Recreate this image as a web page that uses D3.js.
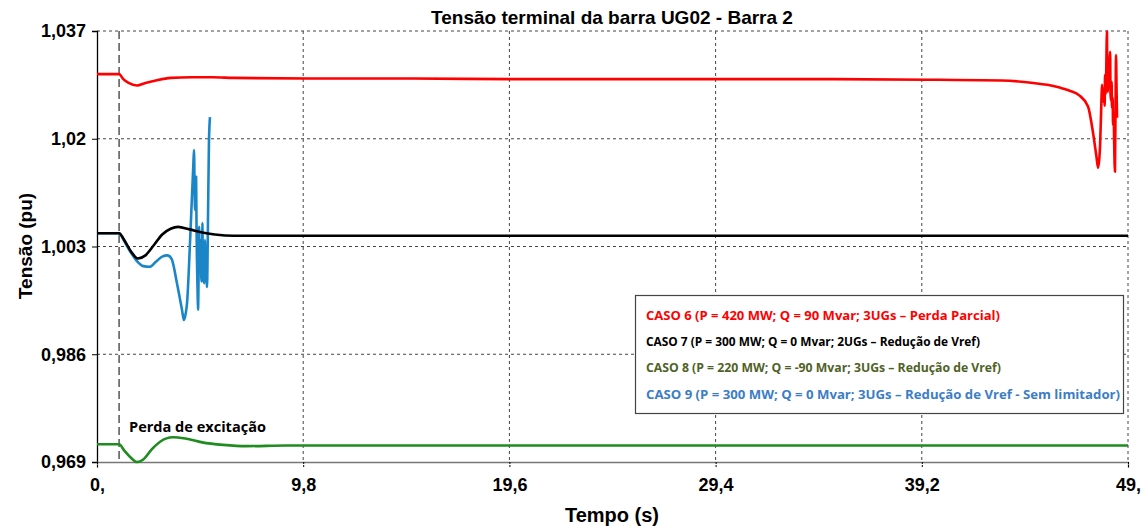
<!DOCTYPE html>
<html>
<head>
<meta charset="utf-8">
<script src="https://cdn.jsdelivr.net/npm/d3@7"></script>
<style>
  html, body { margin: 0; padding: 0; background: #fff; }
  svg { display: block; }
</style>
</head>
<body>
<svg id="chart" width="1148" height="526"></svg>
<script>
// Terminal voltage of bus UG02 (pu) over time (s), four loss-of-excitation cases
const caso6 = [
  [0, 1.0302], [1.05, 1.0302], [1.25, 1.0294], [1.5, 1.0288], [1.9, 1.0284], [2.3, 1.0288],
  [2.8, 1.0292], [3.5, 1.0296], [4.5, 1.0297], [5.5, 1.0297], [6.5, 1.0296], [10, 1.0295],
  [15, 1.0295], [20, 1.0294], [25, 1.0294], [30, 1.0294], [35, 1.0294], [40, 1.0293],
  [43, 1.0292], [44.5, 1.0288], [45.5, 1.0283], [46.2, 1.0276], [46.7, 1.0268], [47.1, 1.0251],
  [47.34, 1.0209], [47.5, 1.0172], [47.58, 1.0154], [47.64, 1.0170], [47.67, 1.0187],
  [47.72, 1.0240], [47.77, 1.0285], [47.79, 1.0262], [47.81, 1.0280], [47.84, 1.0258],
  [47.86, 1.0275], [47.89, 1.0252], [47.91, 1.0301], [47.94, 1.0270], [47.96, 1.0296],
  [48.0, 1.0369], [48.02, 1.0285], [48.05, 1.0274], [48.07, 1.0310], [48.1, 1.0292],
  [48.13, 1.0325], [48.15, 1.0337], [48.17, 1.0270], [48.2, 1.0260], [48.22, 1.0290],
  [48.24, 1.0249], [48.27, 1.0265], [48.29, 1.0222], [48.32, 1.0240], [48.34, 1.0200],
  [48.38, 1.0148], [48.41, 1.0260], [48.43, 1.0332], [48.46, 1.0270], [48.48, 1.0233]
];
const caso7 = [
  [0, 1.0051], [1.05, 1.0051], [1.3, 1.0040], [1.6, 1.0023], [1.95, 1.0011], [2.3, 1.0016],
  [2.7, 1.0032], [3.1, 1.0049], [3.5, 1.0058], [3.85, 1.0061], [4.4, 1.0057], [5.0, 1.0052],
  [5.6, 1.0049], [6.5, 1.0047], [8, 1.0047], [20, 1.0047], [35, 1.0047], [49, 1.0047]
];
const caso8 = [
  [0, 0.9718], [1.05, 0.9718], [1.3, 0.9708], [1.6, 0.9697], [1.9, 0.9690], [2.2, 0.9694],
  [2.6, 0.9710], [3.0, 0.9722], [3.6, 0.9729], [4.2, 0.9727], [5.0, 0.9721], [6.0, 0.9717],
  [7.1, 0.9715], [9, 0.9716], [15, 0.9716], [30, 0.9716], [49, 0.9716]
];
const caso9 = [
  [0, 1.0051], [1.05, 1.0051], [1.3, 1.0038], [1.6, 1.0021], [1.9, 1.0007], [2.2, 0.9999],
  [2.5, 0.9998], [2.8, 1.0006], [3.1, 1.0014], [3.35, 1.0016], [3.55, 1.0010], [3.8, 0.9972],
  [4.04, 0.9930], [4.13, 0.9914], [4.22, 0.9925], [4.28, 0.9941], [4.42, 1.0036], [4.52, 1.0114],
  [4.58, 1.0160], [4.61, 1.0182], [4.64, 1.0120], [4.66, 1.0088], [4.69, 1.0125], [4.71, 1.0140],
  [4.73, 1.0060], [4.75, 1.0009], [4.78, 0.9960], [4.80, 0.9930], [4.83, 0.9990], [4.85, 1.0061],
  [4.87, 1.0020], [4.89, 0.9990], [4.91, 1.0040], [4.94, 1.0036], [4.96, 0.9975], [4.99, 0.9982],
  [5.01, 1.0067], [5.03, 1.0000], [5.05, 0.9975], [5.07, 1.0030], [5.09, 0.9972], [5.11, 1.0010],
  [5.13, 1.0040], [5.15, 0.9985], [5.18, 1.0025], [5.2, 0.9990], [5.23, 0.9966], [5.26, 1.0030],
  [5.28, 1.0088], [5.32, 1.0193], [5.37, 1.0234]
];

const seriesNames = [
  "CASO 6 (P = 420 MW; Q = 90 Mvar; 3UGs \u2013 Perda Parcial)",
  "CASO 7 (P = 300 MW; Q = 0 Mvar; 2UGs \u2013 Redu\u00e7\u00e3o de Vref)",
  "CASO 8 (P = 220 MW; Q = -90 Mvar; 3UGs \u2013 Redu\u00e7\u00e3o de Vref)",
  "CASO 9 (P = 300 MW; Q = 0 Mvar; 3UGs \u2013 Redu\u00e7\u00e3o de Vref -  Sem limitador)"
];
const seriesData = [caso6, caso7, caso8, caso9];
const lineColors = ["#ff0000", "#000000", "#1e8c1e", "#1a86c8"];
const legendColors = ["#ff0000", "#000000", "#4f6228", "#3b7dc6"];

const yTicks = [0.969, 0.986, 1.003, 1.02, 1.037];
const yTickLabels = ["0,969", "0,986", "1,003", "1,02", "1,037"];
const xTicks = [0, 9.8, 19.6, 29.4, 39.2, 49];
const xTickLabels = ["0,", "9,8", "19,6", "29,4", "39,2", "49,"];
const eventTime = 1.05;
const eventLabel = "Perda de excita\u00e7\u00e3o";

const svg = d3.select("#chart");
const x = d3.scaleLinear().domain([0, 49]).range([97, 1128]);
const y = d3.scaleLinear().domain([0.969, 1.037]).range([462, 31]);
const axisFont = "'Liberation Sans', Arial, sans-serif";

// grid
const grid = svg.append("g");
grid.selectAll("line.h").data(yTicks.slice(1)).join("line")
  .attr("x1", x(0)).attr("x2", x(49))
  .attr("y1", d => y(d)).attr("y2", d => y(d))
  .attr("stroke", "#444").attr("stroke-width", 1).attr("stroke-dasharray", "3,3");
grid.selectAll("line.v").data(xTicks.slice(1)).join("line")
  .attr("x1", d => x(d)).attr("x2", d => x(d))
  .attr("y1", y(1.037)).attr("y2", y(0.969))
  .attr("stroke", "#444").attr("stroke-width", 1).attr("stroke-dasharray", "3,3");

// event marker
svg.append("line")
  .attr("x1", x(eventTime)).attr("x2", x(eventTime))
  .attr("y1", y(1.037)).attr("y2", y(0.969))
  .attr("stroke", "#555").attr("stroke-width", 1.5).attr("stroke-dasharray", "8,4");

// axes
const yAxis = d3.axisLeft(y).tickValues(yTicks)
  .tickFormat((d, i) => yTickLabels[i]).tickSize(5).tickPadding(6);
const gy = svg.append("g").attr("transform", `translate(${x(0)},0)`).call(yAxis);
gy.select(".domain").attr("stroke", "#000").attr("stroke-width", 1.3);
gy.selectAll(".tick line").attr("stroke", "#000");
gy.selectAll("text").attr("font-family", axisFont).attr("font-weight", "bold")
  .attr("font-size", 18).attr("fill", "#000");

const xAxis = d3.axisBottom(x).tickValues(xTicks)
  .tickFormat((d, i) => xTickLabels[i]).tickSize(6).tickPadding(10);
const gx = svg.append("g").attr("transform", `translate(0,${y(0.969)})`).call(xAxis);
gx.select(".domain").attr("stroke", "#777").attr("stroke-width", 1.3);
gx.selectAll(".tick line").attr("stroke", "#000").attr("stroke-dasharray", "2,1");
gx.selectAll("text").attr("font-family", axisFont).attr("font-weight", "bold")
  .attr("font-size", 18).attr("fill", "#000");

// series
const line = d3.line().curve(d3.curveMonotoneX).x(d => x(d[0])).y(d => y(d[1]));
const drawOrder = [2, 0, 3, 1];
drawOrder.forEach(i => {
  svg.append("path").datum(seriesData[i])
    .attr("d", line).attr("fill", "none")
    .attr("stroke", lineColors[i])
    .attr("stroke-width", 2.6)
    .attr("stroke-linejoin", "round");
});

// titles
svg.append("text").attr("x", 612).attr("y", 24).attr("text-anchor", "middle")
  .attr("font-family", axisFont).attr("font-weight", "bold").attr("font-size", 19)
  .text("Tens\u00e3o terminal da barra UG02 - Barra 2");
svg.append("text").attr("x", 612).attr("y", 522).attr("text-anchor", "middle")
  .attr("font-family", axisFont).attr("font-weight", "bold").attr("font-size", 20)
  .text("Tempo (s)");
svg.append("text").attr("transform", "translate(32,246) rotate(-90)").attr("text-anchor", "middle")
  .attr("font-family", axisFont).attr("font-weight", "bold").attr("font-size", 19)
  .text("Tens\u00e3o (pu)");

// annotation
svg.append("text").attr("x", 129).attr("y", 432)
  .attr("font-family", "'Open Sans', sans-serif").attr("font-weight", "bold").attr("font-size", 14)
  .attr("textLength", 137).attr("lengthAdjust", "spacingAndGlyphs")
  .text(eventLabel);

// legend
const legend = svg.append("g");
legend.append("rect").attr("x", 635.5).attr("y", 295.5).attr("width", 488).attr("height", 118)
  .attr("fill", "#fff").attr("stroke", "#444").attr("stroke-width", 1.2);
const legendWidths = [354, 334, 355, 474];
legend.selectAll("text").data(seriesNames).join("text")
  .attr("x", 646).attr("y", (d, i) => 320 + i * 26.2)
  .attr("font-family", "'Open Sans', sans-serif").attr("font-weight", "bold").attr("font-size", 13)
  .attr("fill", (d, i) => legendColors[i])
  .attr("textLength", (d, i) => legendWidths[i]).attr("lengthAdjust", "spacingAndGlyphs")
  .text(d => d);
</script>
</body>
</html>
